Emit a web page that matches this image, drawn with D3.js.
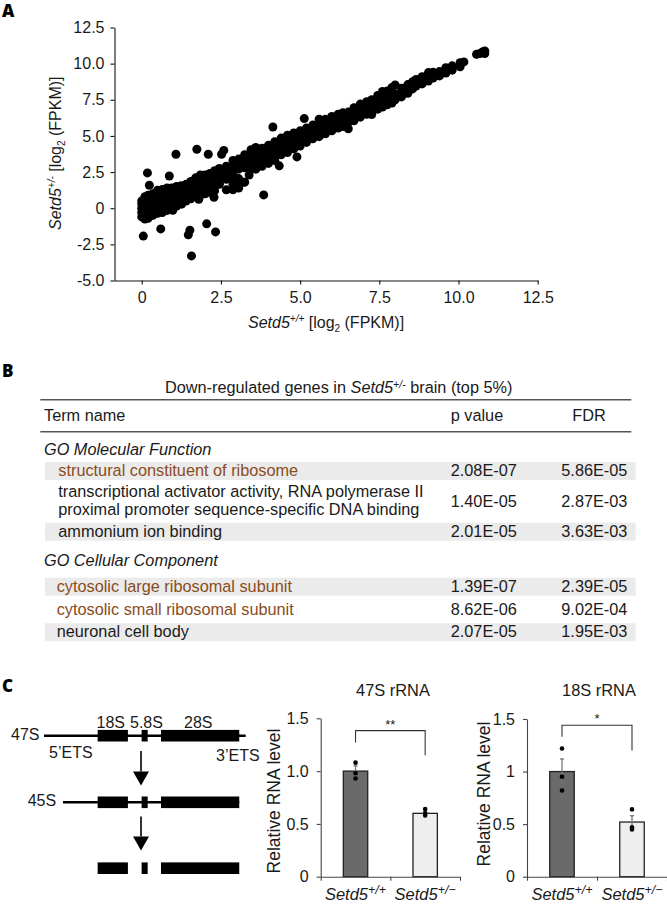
<!DOCTYPE html>
<html>
<head>
<meta charset="utf-8">
<title>Setd5 figure</title>
<script src="https://cdn.jsdelivr.net/npm/d3@7"></script>
<style>
	html, body { margin: 0; padding: 0; background: #fff; }
	svg { display: block; }
	text { font-family: "Liberation Sans", Arial, sans-serif; fill: #1a1a1a; }
	.letter { font-family: "Open Sans", sans-serif; font-weight: 800; font-size: 17px; fill: #000; }
</style>
</head>
<body>
<script>
//Panel A: columns of the dense band
var bandX = [0, 0.1, 0.2, 0.35, 0.5, 0.65, 0.8, 0.95, 1.1, 1.25, 1.4, 1.55, 1.7, 1.85, 2, 2.15, 2.3, 2.45, 2.67, 2.88, 3.06, 3.25, 3.45, 3.6, 3.8, 4, 4.2, 4.4, 4.6, 4.8, 5, 5.2, 5.4, 5.6, 5.8, 6, 6.2, 6.35, 6.52, 6.7, 6.9, 7.1, 7.26, 7.45, 7.6, 7.75, 7.9, 8, 8.2, 8.4, 8.55, 8.66, 8.85, 9.05, 9.2, 9.4, 9.6, 9.8, 10.05];
var bandY = [
	[-0.6, -0.3, 0, 0.3, 0.5],
	[-0.75, -0.4, -0.1, 0.2, 0.5, 0.8],
	[-0.7, -0.3, 0, 0.3, 0.6, 0.9],
	[-0.5, -0.2, 0.1, 0.4, 0.7, 1],
	[-0.35, 0, 0.3, 0.6, 0.9, 1.25],
	[-0.3, 0.1, 0.4, 0.7, 1, 1.3],
	[-0.15, 0.2, 0.5, 0.8, 1.1, 1.4],
	[0, 0.3, 0.6, 0.9, 1.2, 1.4],
	[0.15, 0.45, 0.75, 1.05, 1.35, 1.5],
	[0.35, 0.65, 0.95, 1.25, 1.55],
	[0.5, 0.8, 1.1, 1.4, 1.65],
	[0.65, 0.95, 1.25, 1.55, 1.85],
	[0.8, 1.1, 1.4, 1.7, 2.1],
	[0.9, 1.2, 1.5, 1.8, 2.3],
	[1, 1.3, 1.6, 1.9, 2.3],
	[1.1, 1.4, 1.7, 2, 2.4],
	[1.2, 1.5, 1.8, 2.1, 2.6],
	[1.65, 1.8, 2.1, 2.4, 2.75],
	[1.27, 2, 2.3, 2.6, 2.9],
	[1.27, 1.65, 2, 2.3, 2.6, 2.9, 3.3],
	[1.4, 1.75, 2.05, 2.7, 3, 3.4],
	[1.8, 2.8, 3.1, 3.4, 3.7],
	[2.75, 3.05, 3.35, 3.7, 4.05],
	[2.7, 3, 3.3, 3.6, 3.95, 4.2],
	[2.9, 3.2, 3.5, 3.85, 4.15],
	[3.1, 3.4, 3.7, 4, 4.35],
	[3.3, 3.6, 3.95, 4.3, 4.6],
	[3.7, 4, 4.3, 4.6, 4.85],
	[3.85, 4.2, 4.5, 4.8, 5.05],
	[4.1, 4.4, 4.7, 5, 5.2],
	[4.3, 4.6, 4.9, 5.2, 5.35],
	[4.55, 4.9, 5.2, 5.55],
	[4.8, 5.1, 5.4, 5.75],
	[4.95, 5.3, 5.6, 5.95, 6.15],
	[5.15, 5.5, 5.8, 6.15],
	[5.35, 5.7, 6, 6.35],
	[5.55, 5.85, 6.2, 6.5],
	[5.65, 6, 6.3, 6.6],
	[5.5, 5.95, 6.3, 6.65],
	[6.05, 6.4, 6.75, 6.95],
	[6.3, 6.65, 7, 7.2],
	[6.5, 6.85, 7.15, 7.37],
	[6.48, 6.9, 7.2, 7.5],
	[6.85, 7.2, 7.55, 7.8],
	[7, 7.35, 7.7, 8.07],
	[7.15, 7.5, 7.85, 8.1],
	[7.28, 7.65, 8, 8.35],
	[7.5, 7.9, 8.52],
	[7.7, 8, 8.3],
	[7.95, 8.25, 8.55],
	[8.25, 8.55, 8.75],
	[8.45, 8.7, 8.9],
	[8.6, 8.9, 9.1],
	[8.8, 9.05, 9.38],
	[9, 9.25, 9.4],
	[9.15, 9.45],
	[9.35, 9.72],
	[9.55, 9.85],
	[9.78, 10.07]
];
//Points that sit away from the band
var looseX = [0.18, 0.24, 1.08, 0.87, 1.74, 2.1, 2.52, 2.59, 4.14, 5.13, 4.9, 4.34, 3.85, 3.39, 0.05, 0.6, 0.98, 1.52, 1.47, 2.05, 2.33, 1.57, 1.26, 1.8, 2.28, 3.23, 10.17, 10.57, 10.68, 10.75, 10.83, 10.83];
var looseY = [2.44, 1.59, 3.73, 2.23, 4.08, 3.73, 3.73, 4, 5.62, 6.2, 3.55, 2.93, 0.92, 2.3, -1.93, -1.43, -0.14, -1.52, -1.84, -1.08, -1.64, -3.3, 0.28, 0.62, 0.76, 1.8, 10.12, 10.65, 10.7, 10.8, 10.88, 10.7];

var scatterXTicks = [0, 2.5, 5, 7.5, 10, 12.5];
var scatterXLabels = ["0", "2.5", "5.0", "7.5", "10.0", "12.5"];
var scatterYTicks = [-5, -2.5, 0, 2.5, 5, 7.5, 10, 12.5];
var scatterYLabels = ["-5.0", "-2.5", "0", "2.5", "5.0", "7.5", "10.0", "12.5"];

//Panel B
var tableTitle = ["Down-regulated genes in ", "Setd5", "+/-", " brain (top 5%)"];
var tableHeaders = ["Term name", "p value", "FDR"];
var groupNames = ["GO Molecular Function", "GO Cellular Component"];
var termNames = [
	["structural constituent of ribosome"],
	["transcriptional activator activity, RNA polymerase II", "proximal promoter sequence-specific DNA binding"],
	["ammonium ion binding"],
	["cytosolic large ribosomal subunit"],
	["cytosolic small ribosomal subunit"],
	["neuronal cell body"]
];
var pValues = ["2.08E-07", "1.40E-05", "2.01E-05", "1.39E-07", "8.62E-06", "2.07E-05"];
var fdrValues = ["5.86E-05", "2.87E-03", "3.63E-03", "2.39E-05", "9.02E-04", "1.95E-03"];
var termRibosomal = [true, false, false, true, true, false];
var termStriped = [true, false, true, true, false, true];

//Panel C, schematic (position along the precursor, 0-100)
var regionNames = ["18S", "5.8S", "28S"];
var regionStart = [26.6, 48.4, 58];
var regionEnd = [41.6, 51.4, 96.8];
var precursorNames = ["47S", "45S"];
var precursorStart = [0, 9.4];
var precursorEnd = [100, 96.8];

//Panel C, bars
var genotypes = ["+/+", "+/\u2212"];
var rna47Means = [1, 0.6];
var rna47Errors = [0.05, 0.02];
var rna47Points = [[1.08, 0.98, 0.93], [0.64, 0.6, 0.58]];
var rna47Ticks = [0, 0.5, 1, 1.5];
var rna47Labels = ["0", "0.5", "1.0", "1.5"];
var rna18Means = [1, 0.52];
var rna18Errors = [0.12, 0.06];
var rna18Points = [[1.22, 0.95, 0.82], [0.64, 0.47, 0.45]];
var rna18Ticks = [0, 0.5, 1, 1.5];
var rna18Labels = ["0", "0.5", "1", "1.5"];

var width = 667,
	height = 906;

var svg = d3.select("body").append("svg")
	.attr("width", width)
	.attr("height", height);

svg.append("rect").attr("width", width).attr("height", height).attr("fill", "#fff");

svg.append("text").attr("class", "letter").attr("x", 2).attr("y", 17).text("A");
svg.append("text").attr("class", "letter").attr("x", 2).attr("y", 377).text("B");
svg.append("text").attr("class", "letter").attr("x", 2).attr("y", 692).text("C");

//Writes a gene label: italic name, raised genotype, then the plain rest
function geneLabel(sel, size, supSize, rise, sup, rest) {
	sel.attr("font-size", size);
	sel.append("tspan").attr("font-style", "italic").text("Setd5");
	sel.append("tspan").attr("font-style", "italic").attr("font-size", supSize).attr("dy", -rise).text(sup);
	var after = sel.append("tspan").attr("dy", rise);
	after.text(rest || "");
}

function fpkmLabel(sel, sup) {
	geneLabel(sel, 16, 10, 6, sup, " [log");
	sel.append("tspan").attr("font-size", 10).attr("dy", 4).text("2");
	sel.append("tspan").attr("dy", -4).text(" (FPKM)]");
}

/* ---------- Panel A ---------- */
var xScatter = d3.scaleLinear().domain([-0.86, 12.5]).range([114.5, 537.7]);
var yScatter = d3.scaleLinear().domain([-5, 12.5]).range([280.5, 27.5]);

var scatterPoints = [];
bandX.forEach(function(x, i) {
	bandY[i].forEach(function(y) {
		scatterPoints.push([x, y]);
	});
});
looseX.forEach(function(x, i) {
	scatterPoints.push([x, looseY[i]]);
});

svg.append("g").selectAll("circle")
	.data(scatterPoints)
	.enter().append("circle")
	.attr("cx", function(d) { return xScatter(d[0]); })
	.attr("cy", function(d) { return yScatter(d[1]); })
	.attr("r", 4.5)
	.attr("fill", "#000");

var xAxisA = svg.append("g")
	.attr("transform", "translate(0,280.5)")
	.call(d3.axisBottom(xScatter).tickValues(scatterXTicks).tickSize(4).tickSizeOuter(0)
		.tickFormat(function(d, i) { return scatterXLabels[i]; }));
var yAxisA = svg.append("g")
	.attr("transform", "translate(114.5,0)")
	.call(d3.axisLeft(yScatter).tickValues(scatterYTicks).tickSize(4).tickSizeOuter(0)
		.tickFormat(function(d, i) { return scatterYLabels[i]; }));

[xAxisA, yAxisA].forEach(function(a) {
	a.selectAll("path, line").attr("stroke", "#111").attr("stroke-width", 1.1);
	a.selectAll("text").attr("font-size", 16).attr("font-family", "Liberation Sans").attr("fill", "#1a1a1a");
});
xAxisA.selectAll("text").attr("y", 11);
yAxisA.selectAll("text").attr("x", -10);

fpkmLabel(svg.append("text").attr("x", 248).attr("y", 328), "+/+");
fpkmLabel(svg.append("text").attr("transform", "translate(61,230) rotate(-90)"), "+/-");

/* ---------- Panel B ---------- */
var tableSize = 16.3,
	tableLeft = 44,
	pLeft = 450.7,
	fdrLeft = 561.3,
	fdrHeadLeft = 572.3;

var title = svg.append("text").attr("x", 338.7).attr("y", 393).attr("text-anchor", "middle").attr("font-size", tableSize);
title.append("tspan").text(tableTitle[0]);
title.append("tspan").attr("font-style", "italic").text(tableTitle[1]);
title.append("tspan").attr("font-style", "italic").attr("font-size", 10.5).attr("dy", -5).text(tableTitle[2]);
title.append("tspan").attr("dy", 5).text(tableTitle[3]);

svg.selectAll("line.rule")
	.data([399.7, 431.7])
	.enter().append("line")
	.attr("class", "rule")
	.attr("x1", 40.3).attr("x2", 631.3)
	.attr("y1", function(d) { return d; })
	.attr("y2", function(d) { return d; })
	.attr("stroke", "#555")
	.attr("stroke-width", 1.4);

svg.selectAll("text.head")
	.data(tableHeaders)
	.enter().append("text")
	.attr("class", "head")
	.attr("x", function(d, i) { return [tableLeft, pLeft, fdrHeadLeft][i]; })
	.attr("y", 420.7)
	.attr("font-size", tableSize)
	.text(function(d) { return d; });

svg.selectAll("text.group")
	.data(groupNames)
	.enter().append("text")
	.attr("class", "group")
	.attr("x", tableLeft)
	.attr("y", function(d, i) { return [455, 566][i]; })
	.attr("font-size", tableSize)
	.attr("font-style", "italic")
	.text(function(d) { return d; });

var rowBase = [476, 506.7, 536.7, 591.7, 615, 637.3];
var rowTextX = [58.3, 58.3, 58.3, 56.7, 56.7, 56.7];

var rows = svg.selectAll("g.row")
	.data(termNames)
	.enter().append("g")
	.attr("class", "row")
	.attr("transform", function(d, i) { return "translate(0," + rowBase[i] + ")"; });

rows.filter(function(d, i) { return termStriped[i]; })
	.append("rect")
	.attr("x", 45).attr("width", 590.7)
	.attr("y", -14)
	.attr("height", 18)
	.attr("fill", "#ebebeb");

rows.each(function(lines, i) {
	var row = d3.select(this);
	lines.forEach(function(line, k) {
		row.append("text")
			.attr("x", rowTextX[i])
			.attr("y", lines.length > 1 ? -9.4 + k * 18 : 0)
			.attr("font-size", tableSize)
			.style("fill", termRibosomal[i] ? "#8a4b1c" : "#1a1a1a")
			.text(line);
	});
	row.append("text").attr("x", pLeft).attr("font-size", tableSize).text(pValues[i]);
	row.append("text").attr("x", fdrLeft).attr("font-size", tableSize).text(fdrValues[i]);
});

/* ---------- Panel C schematic ---------- */
var xGene = d3.scaleLinear().domain([0, 100]).range([44, 245.7]);
var geneRowsY = [735.7, 802.3, 868.2];

precursorNames.forEach(function(name, i) {
	svg.append("line")
		.attr("x1", xGene(precursorStart[i])).attr("x2", xGene(precursorEnd[i]))
		.attr("y1", geneRowsY[i]).attr("y2", geneRowsY[i])
		.attr("stroke", "#000").attr("stroke-width", 2.6);
});

geneRowsY.forEach(function(y) {
	svg.append("g").selectAll("rect")
		.data(regionNames)
		.enter().append("rect")
		.attr("x", function(d, i) { return xGene(regionStart[i]); })
		.attr("width", function(d, i) { return xGene(regionEnd[i]) - xGene(regionStart[i]); })
		.attr("y", y - 5.8)
		.attr("height", 11.6)
		.attr("fill", "#000");
});

function geneText(x, y, s) {
	svg.append("text").attr("x", x).attr("y", y).attr("font-size", 16).text(s);
}
geneText(11, 739.5, precursorNames[0]);
geneText(27.7, 806, precursorNames[1]);
geneText(96.5, 727.5, regionNames[0]);
geneText(130, 727.5, regionNames[1]);
geneText(184, 727.5, regionNames[2]);
geneText(49, 758, "5\u2019ETS");
geneText(216, 761, "3\u2019ETS");

function arrowDown(top, headTop, tip) {
	svg.append("line").attr("x1", 141).attr("x2", 141).attr("y1", top).attr("y2", headTop)
		.attr("stroke", "#000").attr("stroke-width", 1.6);
	svg.append("path")
		.attr("d", d3.line()([[133, headTop], [149, headTop], [141, tip]]) + "Z")
		.attr("fill", "#000");
}
arrowDown(751, 771.5, 785.5);
arrowDown(816.5, 836.5, 850.5);

/* ---------- Panel C bars ---------- */
function barChart(o) {
	var y = d3.scaleLinear().domain([0, 1.5]).range([876.7, o.top]);
	var x = d3.scaleBand().domain(genotypes).range([o.left, o.right]).paddingInner(0.65).paddingOuter(0.325);
	var xTicks = d3.scaleLinear().domain([0, 2]).range([o.left, o.right]);
	var g = svg.append("g");

	g.selectAll("rect")
		.data(genotypes)
		.enter().append("rect")
		.attr("x", function(d) { return x(d); })
		.attr("width", x.bandwidth())
		.attr("y", function(d, i) { return y(o.means[i]); })
		.attr("height", function(d, i) { return y(0) - y(o.means[i]); })
		.attr("fill", function(d, i) { return i == 0 ? "#6a6a6a" : "#eeeeee"; })
		.attr("stroke", "#222")
		.attr("stroke-width", 1.3);

	genotypes.forEach(function(d, i) {
		var cx = x(d) + x.bandwidth() / 2;
		g.append("line")
			.attr("x1", cx).attr("x2", cx)
			.attr("y1", y(o.means[i] - o.errors[i])).attr("y2", y(o.means[i] + o.errors[i]))
			.attr("stroke", "#777").attr("stroke-width", 1.3);
		g.append("line")
			.attr("x1", cx - 2).attr("x2", cx + 2)
			.attr("y1", y(o.means[i] + o.errors[i])).attr("y2", y(o.means[i] + o.errors[i]))
			.attr("stroke", "#777").attr("stroke-width", 1.3);
		g.selectAll("circle.p" + i)
			.data(o.points[i])
			.enter().append("circle")
			.attr("class", "p" + i)
			.attr("cx", cx)
			.attr("cy", function(v) { return y(v); })
			.attr("r", 2.3)
			.attr("fill", "#000");
	});

	var yAxis = g.append("g").attr("transform", "translate(" + o.left + ",0)")
		.call(d3.axisLeft(y).tickValues(o.ticks).tickSize(4).tickSizeOuter(0)
			.tickFormat(function(d, i) { return o.labels[i]; }));
	var xAxis = g.append("g").attr("transform", "translate(0,876.7)")
		.call(d3.axisBottom(xTicks).tickValues([0, 1, 2]).tickSize(4).tickSizeOuter(0).tickFormat(""));
	[xAxis, yAxis].forEach(function(a) {
		a.selectAll("path, line").attr("stroke", "#444").attr("stroke-width", 1.1);
	});
	yAxis.selectAll("text").attr("font-size", 16).attr("font-family", "Liberation Sans").attr("fill", "#1a1a1a").attr("x", -12);

	//significance bracket
	var x0 = x(genotypes[0]) + x.bandwidth() / 2, x1 = x(genotypes[1]) + x.bandwidth() / 2;
	g.append("path")
		.attr("d", d3.line()([[x0, y(o.bracket[1])], [x0, y(o.bracket[0])], [x1, y(o.bracket[0])], [x1, y(o.bracket[2])]]))
		.attr("fill", "none").attr("stroke", "#333").attr("stroke-width", 1.1);
	g.append("text").attr("x", (x0 + x1) / 2).attr("y", y(o.bracket[0]) - 2)
		.attr("text-anchor", "middle").attr("font-size", 13).text(o.stars);

	g.append("text").attr("x", o.titleX).attr("y", 696).attr("text-anchor", "middle").attr("font-size", 16.4).text(o.title);
	g.append("text").attr("transform", "translate(" + o.yTitleX + "," + o.yTitleY + ") rotate(-90)")
		.attr("text-anchor", "middle").attr("font-size", 17.5).text("Relative RNA level");

	genotypes.forEach(function(d, i) {
		var t = g.append("text")
			.attr("x", x(d) + x.bandwidth() / 2)
			.attr("y", 900)
			.attr("text-anchor", "middle");
		geneLabel(t, 16.5, 12.5, 6, d, "");
	});
}

barChart({
	left: 320.7, right: 460, top: 718.3,
	means: rna47Means, errors: rna47Errors, points: rna47Points,
	ticks: rna47Ticks, labels: rna47Labels,
	bracket: [1.383, 1.27, 1.15], stars: "**",
	title: "47S rRNA", titleX: 393, yTitleX: 280, yTitleY: 801
});
barChart({
	left: 527, right: 667, top: 719,
	means: rna18Means, errors: rna18Errors, points: rna18Points,
	ticks: rna18Ticks, labels: rna18Labels,
	bracket: [1.44, 1.33, 1.2], stars: "*",
	title: "18S rRNA", titleX: 599, yTitleX: 490, yTitleY: 794
});
</script>
</body>
</html>
